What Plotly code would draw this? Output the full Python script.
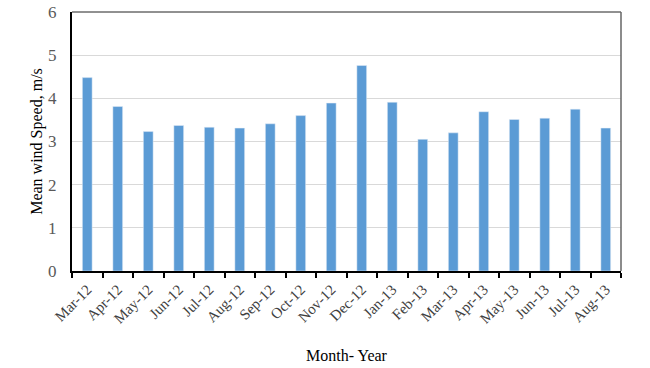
import plotly.graph_objects as go

# datos
meses = ["Mar-12", "Apr-12", "May-12", "Jun-12", "Jul-12", "Aug-12", "Sep-12", "Oct-12", "Nov-12",
         "Dec-12", "Jan-13", "Feb-13", "Mar-13", "Apr-13", "May-13", "Jun-13", "Jul-13", "Aug-13"]
velocidad_media = [4.48, 3.81, 3.23, 3.37, 3.33, 3.31, 3.41, 3.60, 3.89,
                   4.76, 3.91, 3.05, 3.20, 3.69, 3.51, 3.54, 3.75, 3.31]
ticks_y = [0, 1, 2, 3, 4, 5, 6]

fuente = "Liberation Serif, Times New Roman, serif"

fig = go.Figure()
fig.add_trace(go.Bar(x=meses, y=velocidad_media, marker=dict(color="#5B9BD5"), hoverinfo="x+y"))

fig.update_layout(
    width=650, height=368,
    margin=dict(l=72, r=29, t=12, b=97),
    paper_bgcolor="white", plot_bgcolor="white",
    bargap=0.68, showlegend=False,
    font=dict(family=fuente, color="black"),
)

fig.update_xaxes(
    type="category", tickson="boundaries", ticks="outside", ticklen=5, tickwidth=1.5, tickcolor="black",
    tickangle=-45, tickfont=dict(family=fuente, size=15, color="#404040"), ticklabelstandoff=2,
    showline=True, linecolor="black", linewidth=2, automargin=False,
    title=dict(text="Month- Year", font=dict(family=fuente, size=16, color="black"), standoff=24),
)
fig.update_yaxes(
    range=[0, 6], tickvals=ticks_y, ticks="", showgrid=True, gridcolor="#d9d9d9", gridwidth=1,
    tickfont=dict(family=fuente, size=17, color="#595959"), ticklabelstandoff=10,
    showline=True, linecolor="black", linewidth=2, zeroline=False, automargin=False,
    title=dict(text="Mean wind Speed, m/s", font=dict(family=fuente, size=16, color="black"), standoff=1),
)

# marco superior y derecho
fig.add_shape(type="line", xref="paper", yref="paper", x0=0, x1=1, y0=1, y1=1,
              line=dict(color="#222222", width=1))
fig.add_shape(type="line", xref="paper", yref="paper", x0=1, x1=1, y0=0, y1=1,
              line=dict(color="#666666", width=1.5))

# quitar el margen del body para que la figura empiece en 0,0
fig.write_html("out.html", config={"displayModeBar": False},
               post_script="document.body.style.margin='0';")
